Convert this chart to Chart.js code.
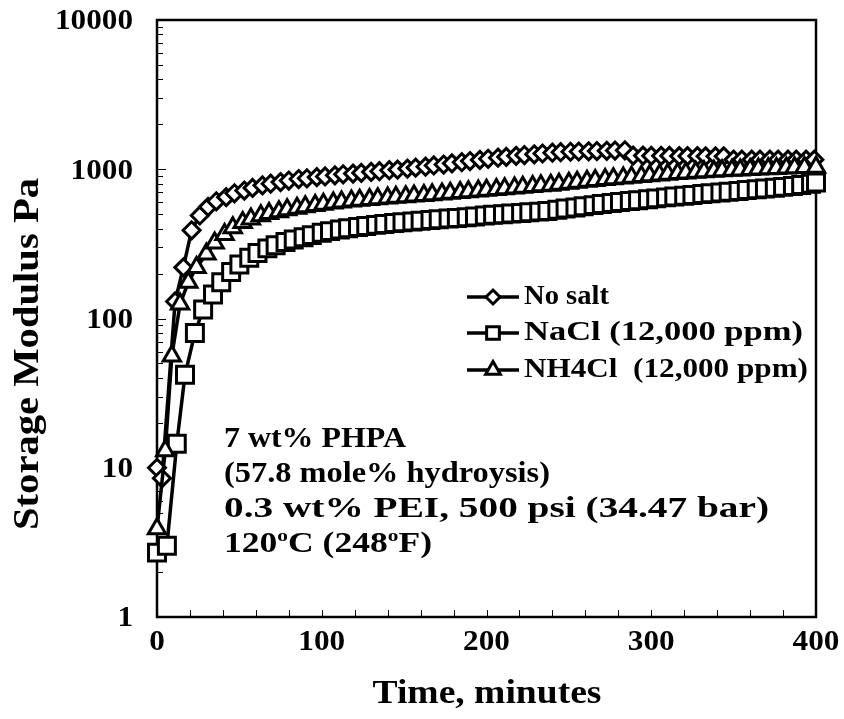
<!DOCTYPE html>
<html lang="en">
<head>
<meta charset="UTF-8">
<title>Storage Modulus vs Time</title>
<script src="https://cdn.jsdelivr.net/npm/chart.js"></script>
<style>
  html, body { margin: 0; padding: 0; background: #fff; }
  canvas { display: block; }
</style>
</head>
<body>
<canvas id="myChart" width="844" height="719"></canvas>
<script>
// ---- data ----
const nsTime = [0, 3, 11, 16, 21, 26, 31, 36, 42, 47, 53, 58, 64, 69, 75, 80, 86, 91, 97, 102, 108, 113, 119, 124,
  130, 135, 141, 146, 152, 157, 163, 168, 174, 179, 185, 190, 196, 201, 207, 212, 218, 223, 229, 234, 240, 245,
  251, 256, 262, 267, 273, 278, 284, 289, 295, 300, 306, 311, 317, 322, 328, 333, 339, 344, 350, 355, 361, 366,
  372, 377, 383, 388, 394, 399];
const nsVal = [10, 8.5, 130, 220, 390, 490, 560, 610, 650, 690, 720, 750, 780, 800, 820, 840, 860, 870, 885, 895,
  910, 925, 935, 945, 960, 970, 985, 995, 1010, 1025, 1040, 1060, 1075, 1095, 1115, 1135, 1155, 1175, 1195, 1210,
  1230, 1245, 1260, 1275, 1290, 1300, 1310, 1315, 1320, 1325, 1330, 1335, 1340, 1235, 1235, 1230, 1230, 1230,
  1225, 1225, 1225, 1220, 1220, 1220, 1160, 1160, 1160, 1160, 1160, 1160, 1160, 1160, 1160, 1160];

const sqTime = [0, 6, 12, 17, 23, 28, 34, 39, 45, 50, 56, 61, 67, 72, 78, 83, 89, 94, 100, 105, 111, 116, 122, 127,
  133, 138, 144, 149, 155, 160, 166, 171, 177, 182, 188, 193, 199, 204, 210, 215, 221, 226, 232, 237, 243, 248,
  254, 259, 265, 270, 276, 281, 287, 292, 298, 303, 309, 314, 320, 325, 331, 336, 342, 347, 353, 358, 364, 369,
  375, 380, 386, 391, 397, 400];
const sqVal = [2.7, 3.0, 14.5, 42, 80, 115, 145, 175, 205, 230, 255, 275, 295, 310, 325, 338, 350, 362, 375, 385,
  395, 403, 410, 417, 424, 430, 436, 441, 447, 452, 457, 462, 467, 472, 477, 483, 490, 495, 500, 505, 510, 515,
  520, 526, 535, 545, 555, 565, 575, 585, 595, 603, 612, 620, 630, 638, 648, 656, 665, 673, 682, 690, 699, 707,
  716, 725, 734, 743, 752, 762, 772, 783, 800, 815];

const trTime = [0, 5, 9, 14, 19, 24, 30, 35, 41, 46, 52, 57, 63, 68, 74, 79, 85, 90, 96, 101, 107, 112, 118, 123,
  129, 134, 140, 145, 151, 156, 162, 167, 173, 178, 184, 189, 195, 200, 206, 211, 217, 222, 228, 233, 239, 244,
  250, 255, 261, 266, 272, 277, 283, 288, 294, 299, 305, 310, 316, 321, 327, 332, 338, 343, 349, 354, 360, 365,
  371, 376, 382, 387, 393, 400];
const trVal = [3.9, 13, 56, 125, 175, 220, 270, 320, 365, 405, 440, 465, 488, 505, 520, 535, 548, 560, 572, 583,
  594, 603, 612, 620, 628, 635, 642, 648, 655, 661, 668, 675, 683, 690, 698, 706, 715, 723, 732, 741, 750, 758,
  766, 774, 782, 792, 805, 818, 830, 842, 853, 864, 875, 885, 895, 905, 915, 925, 935, 945, 955, 963, 970, 977,
  984, 990, 996, 1002, 1008, 1013, 1018, 1023, 1028, 1030];

const seriesNames = ['No salt', 'NaCl (12,000 ppm)', 'NH4Cl  (12,000 ppm)'];
const yTicks = [1, 10, 100, 1000, 10000];
const xTicks = [0, 100, 200, 300, 400];
const xMinor = [20, 40, 60, 80, 120, 140, 160, 180, 220, 240, 260, 280, 320, 340, 360, 380];
const noteLines = ['7 wt% PHPA', '(57.8 mole% hydroysis)', '0.3 wt% PEI, 500 psi (34.47 bar)'];

const FONT = '"Liberation Serif", "Times New Roman", serif';

function pts(t, v) {
  return t.map(function (x, i) { return { x: x, y: v[i] }; });
}

function natW(ctx, str, size) {
  ctx.save();
  ctx.font = 'bold ' + size + 'px ' + FONT;
  const w = ctx.measureText(str).width;
  ctx.restore();
  return w;
}

// bold text squeezed/stretched horizontally to a given width
function txtFit(ctx, str, x, y, size, width, align) {
  const sx = width / natW(ctx, str, size);
  ctx.save();
  ctx.font = 'bold ' + size + 'px ' + FONT;
  ctx.textBaseline = 'middle';
  ctx.textAlign = 'left';
  let left = x;
  if (align === 'center') left = x - width / 2;
  if (align === 'right') left = x - width;
  ctx.translate(left, y);
  ctx.scale(sx, 1);
  ctx.fillStyle = '#000';
  ctx.fillText(str, 0, 0);
  ctx.restore();
}

// pieces with a raised small "o" for the degree sign
function richFit(ctx, parts, x, y, size, width) {
  let nat = 0;
  parts.forEach(function (p) { nat += natW(ctx, p.t, p.sup ? size * 0.6 : size); });
  ctx.save();
  ctx.translate(x, y);
  ctx.scale(width / nat, 1);
  ctx.fillStyle = '#000';
  ctx.textBaseline = 'middle';
  let cx = 0;
  parts.forEach(function (p) {
    const s = p.sup ? size * 0.6 : size;
    ctx.font = 'bold ' + s + 'px ' + FONT;
    ctx.fillText(p.t, cx, p.sup ? -size * 0.3 : 0);
    cx += ctx.measureText(p.t).width;
  });
  ctx.restore();
}

const framePlugin = {
  id: 'frame',
  beforeDraw(chart) {
    const c = chart.ctx;
    c.save();
    c.fillStyle = '#fff';
    c.fillRect(0, 0, chart.width, chart.height);
    c.restore();
  },
  beforeDatasetsDraw(chart) {
    const c = chart.ctx, a = chart.chartArea;
    const xs = chart.scales.x, ys = chart.scales.y;
    c.save();
    c.strokeStyle = '#000';
    c.lineWidth = 1;
    for (let d = 1; d < 10000; d *= 10) {
      for (let m = 1; m <= 9; m++) {
        const py = Math.round(ys.getPixelForValue(d * m)) + 0.5;
        const len = m === 1 ? 9 : 6;
        c.beginPath(); c.moveTo(a.left, py); c.lineTo(a.left + len, py); c.stroke();
      }
    }
    xMinor.concat(xTicks).forEach(function (v) {
      const px = Math.round(xs.getPixelForValue(v)) + 0.5;
      c.beginPath(); c.moveTo(px, a.bottom); c.lineTo(px, a.bottom - 7); c.stroke();
    });
    c.lineWidth = 2.5;
    c.strokeRect(a.left, a.top, a.right - a.left, a.bottom - a.top);
    c.restore();

    // tick labels, digit width taken from "10000" spanning 78px
    const tsize = 29;
    const dw = 78 / natW(c, '10000', tsize);
    yTicks.forEach(function (v) {
      const s = String(v);
      txtFit(c, s, 133, ys.getPixelForValue(v) + 2, tsize, natW(c, s, tsize) * dw, 'right');
    });
    xTicks.forEach(function (v) {
      const s = String(v);
      txtFit(c, s, xs.getPixelForValue(v), 643, tsize, natW(c, s, tsize) * dw, 'center');
    });

    txtFit(c, 'Time, minutes', 487, 694, 34, 229, 'center');
    c.save();
    c.translate(29, 354);
    c.rotate(-Math.PI / 2);
    txtFit(c, 'Storage Modulus Pa', 0, 0, 36, 352, 'center');
    c.restore();

    const noteW = [182, 326, 545];
    noteLines.forEach(function (s, i) {
      txtFit(c, s, 224, 440 + i * 35, 29, noteW[i], 'left');
    });
    richFit(c, [{ t: '120' }, { t: 'o', sup: true }, { t: 'C (248' }, { t: 'o', sup: true }, { t: 'F)' }],
      224, 545, 29, 208);
  },
  afterDraw(chart) {
    const c = chart.ctx;
    const styles = ['rectRot', 'rect', 'triangle'];
    const radii = [7, 9, 8.5];
    const rows = [297, 333, 370];
    const widths = [85, 279, 284];
    c.save();
    rows.forEach(function (y, i) {
      c.strokeStyle = '#000';
      c.lineWidth = 3.5;
      c.beginPath(); c.moveTo(467, y); c.lineTo(519, y); c.stroke();
      c.fillStyle = '#fff';
      c.lineWidth = 3;
      Chart.helpers.drawPoint(c, { pointStyle: styles[i], radius: radii[i], rotation: 0, borderWidth: 3 }, 493, y);
      txtFit(c, seriesNames[i], 524, y, 27, widths[i], 'left');
    });
    c.restore();
  }
};

function ds(label, data, style, radius, order) {
  return {
    label: label,
    data: data,
    borderColor: '#000',
    borderWidth: 3.5,
    pointStyle: style,
    pointRadius: radius,
    pointBorderWidth: 3,
    pointBackgroundColor: '#fff',
    pointBorderColor: '#000',
    tension: 0,
    clip: false,
    order: order
  };
}

new Chart(document.getElementById('myChart'), {
  type: 'line',
  data: {
    datasets: [
      ds(seriesNames[0], pts(nsTime, nsVal), 'rectRot', 8.5, 3),
      ds(seriesNames[1], pts(sqTime, sqVal), 'rect', 12, 2),
      ds(seriesNames[2], pts(trTime, trVal), 'triangle', 10, 1)
    ]
  },
  options: {
    responsive: false,
    animation: false,
    events: [],
    layout: { padding: { left: 0, right: 28, top: 20, bottom: 0 } },
    plugins: { legend: { display: false }, tooltip: { enabled: false } },
    scales: {
      x: {
        type: 'linear', min: 0, max: 400,
        grid: { display: false }, border: { display: false },
        ticks: { display: false },
        afterFit: function (s) { s.height = 102; }
      },
      y: {
        type: 'logarithmic', min: 1, max: 10000,
        grid: { display: false }, border: { display: false },
        ticks: { display: false },
        afterFit: function (s) { s.width = 157; }
      }
    }
  },
  plugins: [framePlugin]
});
</script>
</body>
</html>
